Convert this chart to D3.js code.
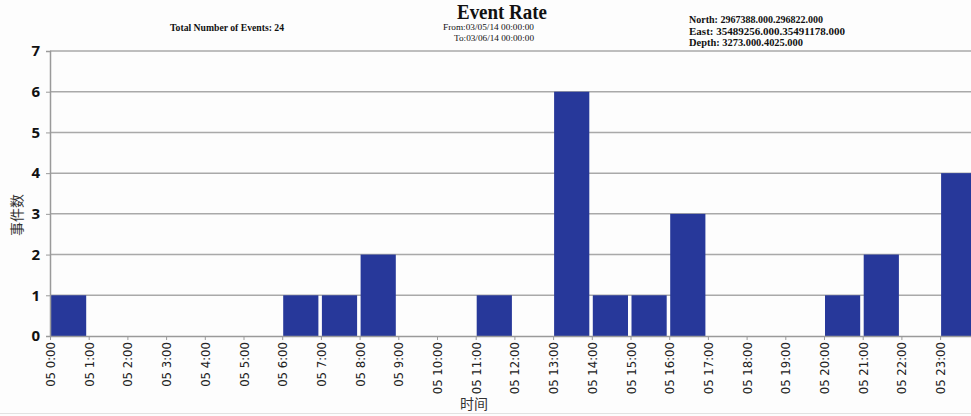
<!DOCTYPE html>
<html>
<head>
<meta charset="utf-8">
<script src="https://cdn.jsdelivr.net/npm/d3@7"></script>
<style>
  html, body { margin: 0; padding: 0; background: #fdfdfd; }
  svg { display: block; }
</style>
</head>
<body>
<svg id="chart" width="971" height="416"></svg>
<script>
// Hourly event counts for 03/05/14 (hour of day -> number of events)
const hours  = [0, 6, 7, 8, 11, 13, 14, 15, 16, 20, 21, 23];
const counts = [1, 1, 1, 2, 1, 6, 1, 1, 3, 1, 2, 4];
const hourTicks = d3.range(0, 24);
const yTicks = [0, 1, 2, 3, 4, 5, 6, 7];
const totalEvents = 24;

const title = "Event Rate";
const fromText = "From:03/05/14 00:00:00";
const toText = "To:03/06/14 00:00:00";
const rangeLines = [
  "North: 2967388.000.296822.000",
  "East: 35489256.000.35491178.000",
  "Depth: 3273.000.4025.000"
];

const svg = d3.select("#chart");
const W = 971, H = 416;
const margin = { left: 50, top: 51, bottom: 80 };
const plotBottom = H - margin.bottom; // baseline at y=336

const x = d3.scaleLinear().domain([0, 24]).range([margin.left, margin.left + 24 * 38.7]);
const y = d3.scaleLinear().domain([0, 7]).range([plotBottom, margin.top]);

svg.append("rect").attr("width", W).attr("height", H).attr("fill", "#fdfdfd");

// horizontal gridlines
svg.append("g")
  .selectAll("line")
  .data(yTicks.slice(1))
  .join("line")
  .attr("x1", margin.left).attr("x2", W)
  .attr("y1", d => y(d)).attr("y2", d => y(d))
  .attr("stroke", "#a9a9a9").attr("stroke-width", 1.5);

// bars
svg.append("g")
  .selectAll("rect")
  .data(hours.map((h, i) => ({ h, v: counts[i] })))
  .join("rect")
  .attr("x", d => x(d.h) + 1)
  .attr("width", d => x(d.h + 1) - x(d.h) - 3.5)
  .attr("y", d => y(d.v))
  .attr("height", d => y(0) - y(d.v))
  .attr("fill", "#27389a");

// y axis
const yAxis = d3.axisLeft(y).tickValues(yTicks).tickSize(4).tickPadding(6).tickFormat(d3.format("d"));
const gy = svg.append("g").attr("transform", `translate(${margin.left},0)`).call(yAxis);
gy.select(".domain").attr("stroke", "#9a9a9a").attr("stroke-width", 1.5);
gy.selectAll(".tick line").attr("stroke", "#9a9a9a");
gy.selectAll(".tick text")
  .attr("font-family", "'Open Sans', 'DejaVu Sans', sans-serif")
  .attr("font-weight", "bold")
  .attr("font-size", 15)
  .attr("fill", "#111");

// x axis
const xAxis = d3.axisBottom(x).tickValues(hourTicks).tickSize(4).tickSizeOuter(0)
  .tickFormat(d => `05 ${d}:00`);
const gx = svg.append("g").attr("transform", `translate(0,${plotBottom})`).call(xAxis);
gx.select(".domain").attr("stroke", "#9a9a9a").attr("stroke-width", 1.5);
gx.selectAll(".tick line").attr("stroke", "#9a9a9a");
gx.selectAll(".tick text")
  .attr("font-family", "'Liberation Sans Narrow', 'DejaVu Sans Condensed', sans-serif")
  .attr("font-size", 13)
  .attr("fill", "#222")
  .attr("text-anchor", "end")
  .attr("dy", "0.35em")
  .attr("transform", "translate(0,6) rotate(-90)")
  .attr("x", 0).attr("y", 0);

// axis titles
svg.append("text")
  .attr("transform", `translate(22,215) rotate(-90)`)
  .attr("text-anchor", "middle")
  .attr("font-family", "'Noto Sans CJK SC', sans-serif")
  .attr("font-size", 14)
  .attr("fill", "#333")
  .text("事件数");

svg.append("text")
  .attr("x", 474).attr("y", 409)
  .attr("text-anchor", "middle")
  .attr("font-family", "'Noto Sans CJK SC', sans-serif")
  .attr("font-size", 14)
  .attr("fill", "#333")
  .text("时间");

// header
const serif = "'Liberation Serif', 'DejaVu Serif', serif";
svg.append("text")
  .attr("x", 457).attr("y", 18.5)
  .attr("font-family", serif).attr("font-size", 20).attr("font-weight", "bold")
  .attr("fill", "#111")
  .attr("textLength", 90).attr("lengthAdjust", "spacingAndGlyphs")
  .text(title);

svg.append("text")
  .attr("x", 443).attr("y", 30)
  .attr("font-family", serif).attr("font-size", 9).attr("fill", "#111")
  .attr("textLength", 91).attr("lengthAdjust", "spacingAndGlyphs")
  .text(fromText);

svg.append("text")
  .attr("x", 454).attr("y", 40.5)
  .attr("font-family", serif).attr("font-size", 9).attr("fill", "#111")
  .attr("textLength", 80).attr("lengthAdjust", "spacingAndGlyphs")
  .text(toText);

svg.append("text")
  .attr("x", 170).attr("y", 31)
  .attr("font-family", serif).attr("font-size", 10).attr("font-weight", "bold").attr("fill", "#111")
  .attr("textLength", 114).attr("lengthAdjust", "spacingAndGlyphs")
  .text(`Total Number of Events:  ${totalEvents}`);

const rangeWidths = [134, 156, 114];
svg.append("g")
  .selectAll("text")
  .data(rangeLines)
  .join("text")
  .attr("x", 689)
  .attr("y", (d, i) => 23 + i * 11.5)
  .attr("font-family", serif).attr("font-size", 10).attr("font-weight", "bold").attr("fill", "#111")
  .attr("textLength", (d, i) => rangeWidths[i])
  .attr("lengthAdjust", "spacingAndGlyphs")
  .text(d => d);

// bottom border
svg.append("line")
  .attr("x1", 0).attr("x2", W).attr("y1", 413.5).attr("y2", 413.5)
  .attr("stroke", "#e2e2e2").attr("stroke-width", 1);
</script>
</body>
</html>
